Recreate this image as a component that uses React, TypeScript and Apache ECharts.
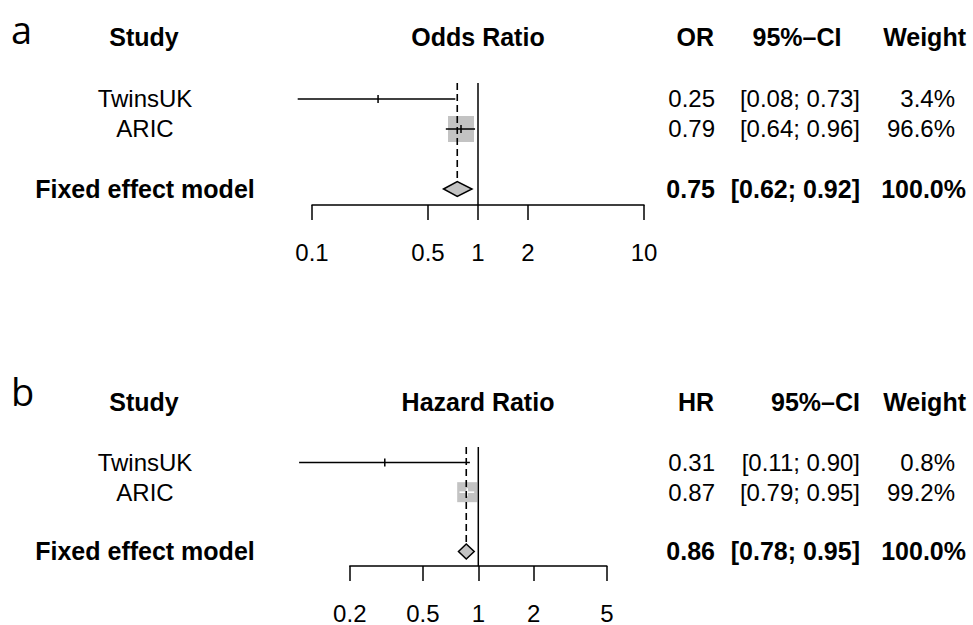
import React, { useEffect, useRef } from "react";
import * as echarts from "echarts";

// ---------- data ----------
const studies = ["TwinsUK", "ARIC"];
const studyRows = [1, 2];
const fixedLabel = "Fixed effect model";
const fixedRow = 4;

// panel a: odds ratio
const orEst = [0.25, 0.79];
const orLow = [0.082, 0.64];
const orHigh = [0.73, 0.96];
const orWeight = [3.4, 96.6];
const orFixed = [0.75, 0.62, 0.92]; // est, low, high
const orTicks = [0.1, 0.5, 1, 2, 10];

// panel b: hazard ratio
const hrEst = [0.31, 0.87];
const hrLow = [0.106, 0.79];
const hrHigh = [0.9, 0.95];
const hrWeight = [0.8, 99.2];
const hrFixed = [0.86, 0.78, 0.95];
const hrTicks = [0.2, 0.5, 1, 2, 5];

// ---------- layout / style ----------
const FONT = "'Liberation Sans', Arial, Helvetica, sans-serif";
const REG = 24;
const BOLD = 25;
const GRAY = "#c3c3c3";

const panels = [
  {
    letter: "a", measure: "Odds Ratio", abbr: "OR",
    est: orEst, low: orLow, high: orHigh, weight: orWeight, fixed: orFixed, ticks: orTicks,
    grid: { left: 312, width: 332, top: 83, height: 122 },
    yMin: 0.4667, yMax: 4.5333, sqMax: 26,
    headerY: 37, letterBottom: 49, ciHeader: { x: 797, align: "center" },
  },
  {
    letter: "b", measure: "Hazard Ratio", abbr: "HR",
    est: hrEst, low: hrLow, high: hrHigh, weight: hrWeight, fixed: hrFixed, ticks: hrTicks,
    grid: { left: 349.8, width: 257, top: 447, height: 123 },
    yMin: 0.4754, yMax: 4.4918, sqMax: 20,
    headerY: 402, letterBottom: 411, ciHeader: { x: 860, align: "right" },
  },
];

const COL = { label: 145, est: 715, ci: 860, wReg: 955, wBold: 966 };

const lg = (v: number) => Math.log10(v);
const fmtTick = (v: number) => String(parseFloat(Math.pow(10, v).toPrecision(3)));

function buildOption() {
  const grid: any[] = [];
  const xAxis: any[] = [];
  const yAxis: any[] = [];
  const series: any[] = [];
  const graphic: any[] = [];

  panels.forEach((p, pi) => {
    grid.push({ ...p.grid, containLabel: false });
    xAxis.push({
      gridIndex: pi,
      type: "value",
      min: lg(p.ticks[0]),
      max: lg(p.ticks[p.ticks.length - 1]),
      axisLine: { show: true, onZero: false, lineStyle: { color: "#000", width: 1.5 } },
      axisTick: { show: true, length: 15, lineStyle: { color: "#000", width: 1.5 }, customValues: p.ticks.map(lg) },
      axisLabel: {
        show: true,
        customValues: p.ticks.map(lg),
        formatter: (v: number) => fmtTick(v),
        fontSize: REG, fontFamily: FONT, color: "#000", margin: 35,
      },
      splitLine: { show: false },
    });
    yAxis.push({ gridIndex: pi, type: "value", inverse: true, min: p.yMin, max: p.yMax, show: false });

    const maxW = Math.max(...p.weight);

    // reference line at 1
    series.push({
      type: "line", xAxisIndex: pi, yAxisIndex: pi, symbol: "none", silent: true,
      data: [[0, p.yMin], [0, p.yMax]],
      lineStyle: { color: "#000", width: 1.5 },
    });

    // study rows
    series.push({
      type: "custom", xAxisIndex: pi, yAxisIndex: pi, clip: false, silent: true,
      data: studies.map((_, i) => [lg(p.est[i]), lg(p.low[i]), lg(p.high[i]), studyRows[i], p.weight[i]]),
      renderItem: (params: any, api: any) => {
        const e = api.coord([api.value(0), api.value(3)]);
        const l = api.coord([api.value(1), api.value(3)]);
        const h = api.coord([api.value(2), api.value(3)]);
        const side = (p.sqMax * api.value(4)) / maxW;
        const inside = l[0] >= e[0] - side / 2 && h[0] <= e[0] + side / 2;
        const c = inside ? "#fff" : "#000";
        return {
          type: "group",
          children: [
            { type: "rect", shape: { x: e[0] - side / 2, y: e[1] - side / 2, width: side, height: side }, style: { fill: GRAY } },
            { type: "line", shape: { x1: l[0], y1: l[1], x2: h[0], y2: h[1] }, style: { stroke: c, lineWidth: 1.5 } },
            { type: "line", shape: { x1: e[0], y1: e[1] - 4, x2: e[0], y2: e[1] + 4 }, style: { stroke: c, lineWidth: 1.5 } },
          ],
        };
      },
    });

    // fixed effect diamond + dashed line
    series.push({
      type: "custom", xAxisIndex: pi, yAxisIndex: pi, clip: false, silent: true,
      data: [[lg(p.fixed[0]), lg(p.fixed[1]), lg(p.fixed[2]), fixedRow]],
      renderItem: (params: any, api: any) => {
        const e = api.coord([api.value(0), api.value(3)]);
        const l = api.coord([api.value(1), api.value(3)]);
        const h = api.coord([api.value(2), api.value(3)]);
        const top = api.coord([api.value(0), p.yMin]);
        const hh = 7.5;
        return {
          type: "group",
          children: [
            { type: "line", shape: { x1: top[0], y1: top[1], x2: e[0], y2: e[1] - hh }, style: { stroke: "#000", lineWidth: 1.6, lineDash: [7, 4] } },
            {
              type: "polygon",
              shape: { points: [[l[0], e[1]], [e[0], e[1] - hh], [h[0], e[1]], [e[0], e[1] + hh]] },
              style: { fill: GRAY, stroke: "#000", lineWidth: 1.5 },
            },
          ],
        };
      },
    });

    // table text
    const rows = studies.map((s, i) => ({
      label: s, row: studyRows[i], est: p.est[i], lo: p.low[i], hi: p.high[i], w: p.weight[i], bold: false,
    }));
    rows.push({ label: fixedLabel, row: fixedRow, est: p.fixed[0], lo: p.fixed[1], hi: p.fixed[2], w: 100, bold: true });
    series.push({
      type: "custom", xAxisIndex: pi, yAxisIndex: pi, clip: false, silent: true,
      data: rows.map((r) => [0, r.row]),
      renderItem: (params: any, api: any) => {
        const r = rows[params.dataIndex];
        const y = api.coord([0, api.value(1)])[1];
        const st = (text: string, align: string) => ({
          text, fill: "#000", fontFamily: FONT, fontSize: r.bold ? BOLD : REG,
          fontWeight: r.bold ? "bold" : "normal", align, verticalAlign: "middle",
        });
        return {
          type: "group",
          children: [
            { type: "text", x: COL.label, y, style: st(r.label, "center") },
            { type: "text", x: COL.est, y, style: st(r.est.toFixed(2), "right") },
            { type: "text", x: COL.ci, y, style: st(`[${r.lo.toFixed(2)}; ${r.hi.toFixed(2)}]`, "right") },
            { type: "text", x: r.bold ? COL.wBold : COL.wReg, y, style: st(`${r.w.toFixed(1)}%`, "right") },
          ],
        };
      },
    });

    // headers
    const hs = (text: string, x: number, align: string) => ({
      type: "text", x, y: p.headerY,
      style: { text, fill: "#000", fontFamily: FONT, fontSize: BOLD, fontWeight: "bold", align, verticalAlign: "middle" },
    });
    graphic.push(
      {
        type: "text", x: 11, y: p.letterBottom,
        style: { text: p.letter, fill: "#000", fontFamily: "'Open Sans', 'DejaVu Sans', sans-serif", fontSize: 38, lineHeight: 40, align: "left", verticalAlign: "bottom" },
      },
      hs("Study", 144, "center"),
      hs(p.measure, 478, "center"),
      hs(p.abbr, 714, "right"),
      hs("95%–CI", p.ciHeader.x, p.ciHeader.align),
      hs("Weight", 966, "right"),
    );
  });

  return { animation: false, backgroundColor: "#fff", grid, xAxis, yAxis, series, graphic };
}

export default function App() {
  const ref = useRef<HTMLDivElement>(null);
  useEffect(() => {
    if (!ref.current) return;
    const chart = echarts.init(ref.current, undefined, { renderer: "svg" });
    chart.setOption(buildOption() as any);
    return () => chart.dispose();
  }, []);
  return <div ref={ref} style={{ position: "absolute", left: 0, top: 0, width: 973, height: 625 }} />;
}
